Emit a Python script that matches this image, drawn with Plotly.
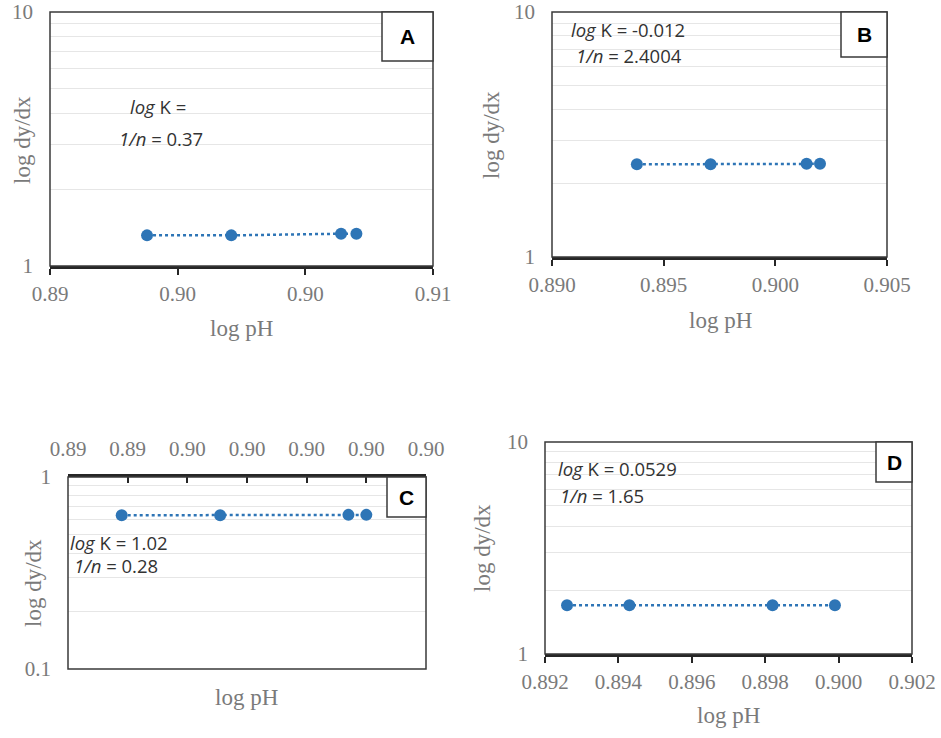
import plotly.graph_objects as go

W, H = 941, 738

# data
ph_abc = [0.8938, 0.8971, 0.9014, 0.9020]
dydx_a = [1.32, 1.32, 1.34, 1.34]
dydx_b = [2.39, 2.39, 2.40, 2.40]
dydx_c = [0.632, 0.632, 0.635, 0.635]
ph_d = [0.8926, 0.8943, 0.8982, 0.8999]
dydx_d = [1.70, 1.70, 1.70, 1.70]

ticks_a = [0.890, 0.895, 0.900, 0.905]
ticktext_a = ["0.89", "0.90", "0.90", "0.91"]
ticks_b = [0.890, 0.895, 0.900, 0.905]
ticktext_b = ["0.890", "0.895", "0.900", "0.905"]
ticks_c = [0.892, 0.894, 0.896, 0.898, 0.900, 0.902, 0.904]
ticktext_c = ["0.89", "0.89", "0.90", "0.90", "0.90", "0.90", "0.90"]
ticks_d = [0.892, 0.894, 0.896, 0.898, 0.900, 0.902]
ticktext_d = ["0.892", "0.894", "0.896", "0.898", "0.900", "0.902"]

labels = ["A", "B", "C", "D"]
logk_text = ["<i>log</i> K =", "<i>log</i> K = -0.012", "<i>log</i> K = 1.02", "<i>log</i> K = 0.0529"]
n_text = ["<i>1/n</i> = 0.37", "<i>1/n</i> = 2.4004", "<i>1/n</i> = 0.28", "<i>1/n</i> = 1.65"]

BLUE = "#2E75B6"
SERIF = "Liberation Serif"
SANS = "Open Sans"
GRAY = "#7a7a7a"


def fx(p):
    return p / W


def fy(p):
    return 1 - p / H


# pixel boxes (left, right, top, bottom) for each plot area
panels = [
    dict(x=ph_abc, y=dydx_a, box=(50, 433, 12, 266), xr=[0.890, 0.905], tv=ticks_a, tt=ticktext_a,
         yr=[0, 1], ytv=[1, 10], ytt=["1", "10"], minor=[2, 3, 4, 5, 6, 7, 8, 9], side="bottom",
         lab=(382, 433, 12, 61), ytitle=(22, 140), xtitle=(241, 328),
         k=(158, 106), n=(161, 138)),
    dict(x=ph_abc, y=dydx_b, box=(552, 887, 12, 257), xr=[0.890, 0.905], tv=ticks_b, tt=ticktext_b,
         yr=[0, 1], ytv=[1, 10], ytt=["1", "10"], minor=[2, 3, 4, 5, 6, 7, 8, 9], side="bottom",
         lab=(841, 887, 12, 57), ytitle=(492, 135), xtitle=(720, 320),
         k=(628, 29), n=(629, 55)),
    dict(x=ph_abc, y=dydx_c, box=(68, 426, 477, 669), xr=[0.892, 0.904], tv=ticks_c, tt=ticktext_c,
         yr=[-1, 0], ytv=[0.1, 1], ytt=["0.1", "1"], minor=[0.2, 0.3, 0.4, 0.5, 0.6, 0.7, 0.8, 0.9],
         side="top", lab=(387, 426, 477, 517), ytitle=(33, 583), xtitle=(247, 697),
         k=(119, 542), n=(116, 565)),
    dict(x=ph_d, y=dydx_d, box=(545, 912, 442, 654), xr=[0.892, 0.902], tv=ticks_d, tt=ticktext_d,
         yr=[0, 1], ytv=[1, 10], ytt=["1", "10"], minor=[2, 3, 4, 5, 6, 7, 8, 9], side="bottom",
         lab=(876, 912, 442, 482), ytitle=(482, 548), xtitle=(728, 715),
         k=(617, 469), n=(602, 495)),
]

fig = go.Figure()
shapes = []
annotations = []


def note(text, pos, font, angle=0):
    return dict(text=text, xref="paper", yref="paper", x=fx(pos[0]), y=fy(pos[1]),
                xanchor="center", yanchor="middle", showarrow=False, textangle=angle, font=font)


for i, p in enumerate(panels):
    sfx = "" if i == 0 else str(i + 1)
    l, r, t, b = p["box"]
    top = p["side"] == "top"

    fig.add_trace(go.Scatter(
        x=p["x"], y=p["y"], mode="lines+markers",
        line=dict(color=BLUE, width=2.5, dash="dot"),
        marker=dict(color=BLUE, size=12),
        xaxis="x" + sfx, yaxis="y" + sfx, showlegend=False, cliponaxis=False,
    ))

    fig.layout["xaxis" + sfx] = dict(
        domain=[fx(l), fx(r)], range=p["xr"], anchor="y" + sfx, side=p["side"],
        tickmode="array", tickvals=p["tv"], ticktext=p["tt"],
        showgrid=False, zeroline=False, automargin=False,
        showline=True, linecolor="#262626", linewidth=2.5,
        ticks="inside" if top else "outside", ticklen=6, tickwidth=2, tickcolor="#262626",
        tickfont=dict(family=SERIF, size=21, color=GRAY),
        ticklabelstandoff=10 if top else 1,
    )
    fig.layout["yaxis" + sfx] = dict(
        domain=[fy(b), fy(t)], type="log", range=p["yr"], anchor="x" + sfx,
        tickmode="array", tickvals=p["ytv"], ticktext=p["ytt"],
        showgrid=False, zeroline=False, showline=False, ticks="", automargin=False,
        minor=dict(tickmode="array", tickvals=p["minor"], showgrid=True,
                   gridcolor="#e6e6e6", gridwidth=1, ticks=""),
        tickfont=dict(family=SERIF, size=21, color=GRAY),
        ticklabelstandoff=16,
    )

    # plot border
    shapes.append(dict(type="rect", xref="x" + sfx + " domain", yref="y" + sfx + " domain",
                       x0=0, x1=1, y0=0, y1=1, line=dict(color="#3a3a3a", width=1.5), layer="above"))

    # panel letter box
    bl, br, bt, bb = p["lab"]
    shapes.append(dict(type="rect", xref="paper", yref="paper",
                       x0=fx(bl), x1=fx(br), y0=fy(bb), y1=fy(bt),
                       fillcolor="white", line=dict(color="#3a3a3a", width=1.5), layer="above"))
    annotations.append(note("<b>%s</b>" % labels[i], ((bl + br) / 2, (bt + bb) / 2),
                            dict(family="Liberation Sans", size=21, color="black")))

    # axis titles
    annotations.append(note("log dy/dx", p["ytitle"], dict(family=SERIF, size=23, color=GRAY), -90))
    annotations.append(note("log pH", p["xtitle"], dict(family=SERIF, size=23, color=GRAY)))

    # equation text
    annotations.append(note(logk_text[i], p["k"], dict(family=SANS, size=18.5, color="#333333")))
    annotations.append(note(n_text[i], p["n"], dict(family=SANS, size=18.5, color="#333333")))

fig.update_layout(
    width=W, height=H,
    margin=dict(l=0, r=0, t=0, b=0),
    paper_bgcolor="white", plot_bgcolor="white",
    shapes=shapes, annotations=annotations,
)

fig.write_html("out.html", config={"displayModeBar": False},
               post_script="document.body.style.margin='0';")
